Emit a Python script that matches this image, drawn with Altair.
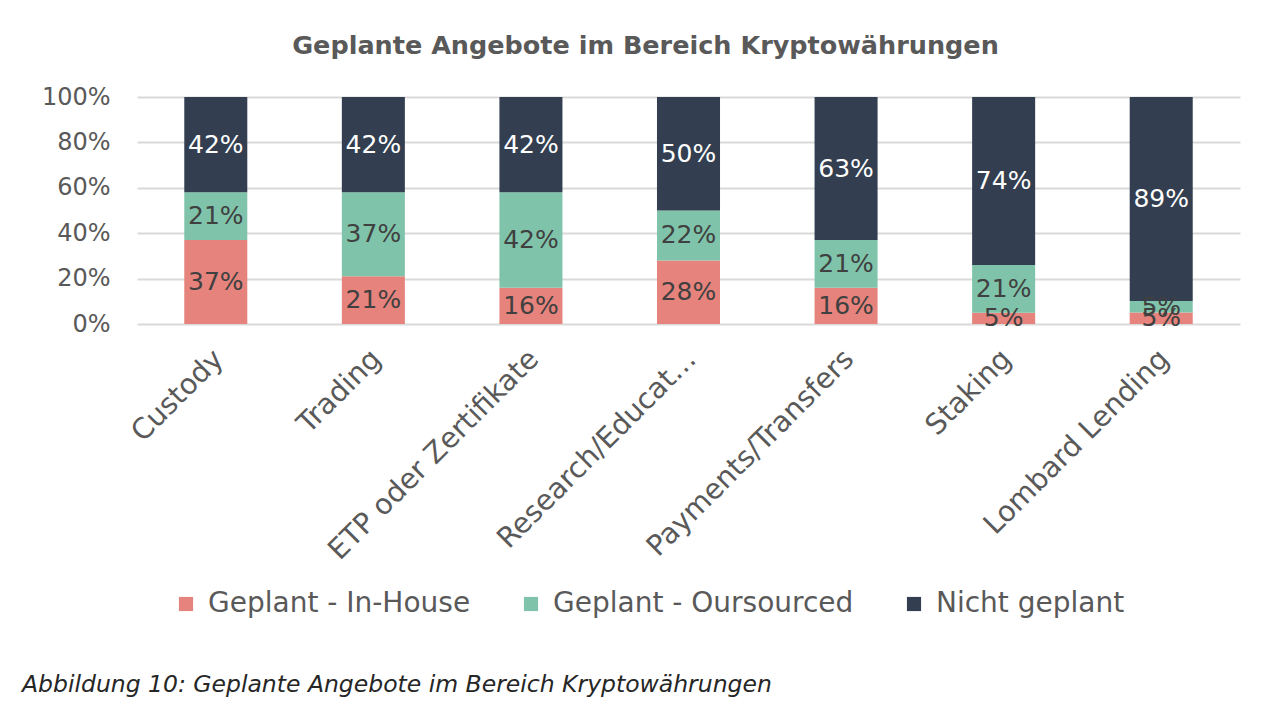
import altair as alt
import pandas as pd

categories = ["Custody", "Trading", "ETP oder Zertifikate", "Research/Educat…",
              "Payments/Transfers", "Staking", "Lombard Lending"]
series = ["Geplant - In-House", "Geplant - Oursourced", "Nicht geplant"]
in_house = [37, 21, 16, 28, 16, 5, 5]
outsourced = [21, 37, 42, 22, 21, 21, 5]
nicht = [42, 42, 42, 50, 63, 74, 89]
colors = ["#E6837C", "#7FC4AA", "#333F50"]
label_colors = ["#404040", "#404040", "#FFFFFF"]

rows = []
for i, c in enumerate(categories):
    for j, (s, vals) in enumerate(zip(series, [in_house, outsourced, nicht])):
        rows.append({"cat": c, "series": s, "ord": j, "value": vals[i],
                     "lab": f"{vals[i]}%", "lc": label_colors[j]})
df = pd.DataFrame(rows)

FONT = "DejaVu Sans"

base = alt.Chart(df).transform_stack(
    stack="value", as_=["y0", "y1"], groupby=["cat"], offset="normalize",
    sort=[alt.SortField("ord", order="ascending")]
).transform_calculate(
    mid="(datum.y0+datum.y1)/2"
)

xenc = alt.X("cat:N", sort=categories, title=None,
             scale=alt.Scale(paddingInner=0.6, paddingOuter=0.3),
             axis=alt.Axis(labelAngle=-45, labelFont=FONT, labelFontSize=28.5,
                           labelColor="#595959", ticks=False, domain=False,
                           labelPadding=20, labelLimit=400, labelOffset=-7))

bars = base.mark_bar().encode(
    x=xenc,
    y=alt.Y("y0:Q", title=None,
            scale=alt.Scale(domain=[0, 1]),
            axis=alt.Axis(format="%", values=[0, 0.2, 0.4, 0.6, 0.8, 1.0],
                          labelFont=FONT, labelFontSize=24, labelColor="#595959",
                          ticks=False, domain=False, labelPadding=27,
                          gridColor="#D9D9D9", gridWidth=2)),
    y2="y1:Q",
    color=alt.Color("series:N", sort=series,
                    scale=alt.Scale(domain=series, range=colors),
                    legend=alt.Legend(title=None, orient="none", direction="horizontal",
                                      legendX=35, legendY=493,
                                      labelFont=FONT, labelFontSize=28,
                                      labelColor="#595959", symbolType="square",
                                      symbolSize=200, symbolStrokeWidth=0,
                                      columnPadding=46, labelOffset=8,
                                      labelLimit=500)),
)

labels = base.mark_text(font=FONT, fontSize=25, baseline="middle").encode(
    x=alt.X("cat:N", sort=categories),
    y=alt.Y("mid:Q"),
    text="lab:N",
    color=alt.Color("lc:N", scale=None, legend=None),
)

caption = alt.Chart(pd.DataFrame({"t": ["Abbildung 10: Geplante Angebote im Bereich Kryptowährungen"]})).mark_text(
    font=FONT, fontSize=23.5, fontStyle="italic", align="left", baseline="middle",
    color="#262626"
).encode(x=alt.value(-115), y=alt.value(588), text="t:N")

chart = alt.layer(bars, labels, caption).properties(
    width=1103, height=227,
    autosize=alt.AutoSizeParams(type="none"),
    padding={"left": 129, "top": 89, "right": 20, "bottom": 400},
    title=alt.TitleParams("Geplante Angebote im Bereich Kryptowährungen",
                          font=FONT, fontSize=25.5, fontWeight="bold",
                          color="#595959", offset=26, dx=-43, anchor="middle"),
).configure_view(stroke=None)

chart.save("out.html", embed_options={"renderer": "svg", "actions": False})
